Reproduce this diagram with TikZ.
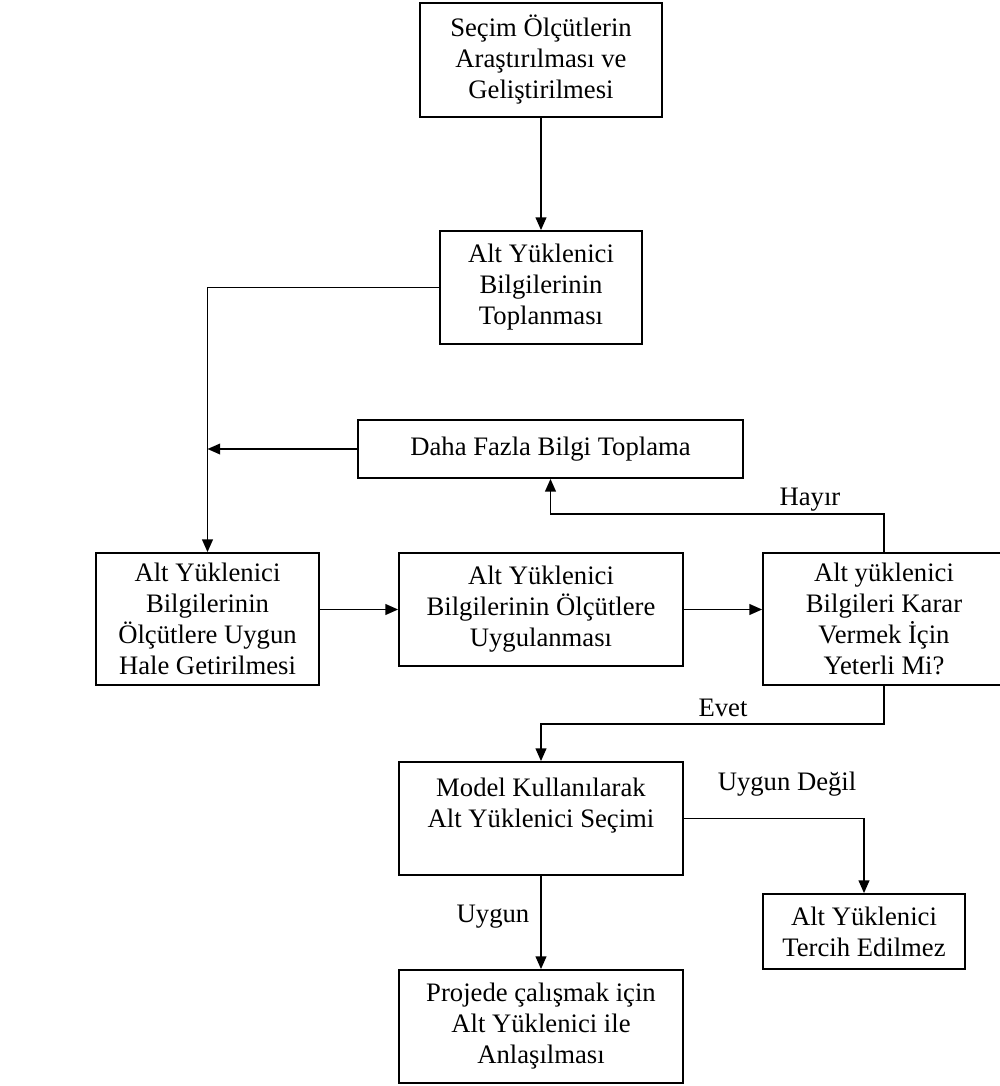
\documentclass[tikz,border=0pt]{standalone}
\usepackage{fontspec}
\setmainfont{Liberation Serif}
\usetikzlibrary{arrows.meta}
\begin{document}
\begin{tikzpicture}[x=.75pt,y=-.75pt,
  yazi/.style={font=\fontsize{20}{23.25}\selectfont},
  kutu/.style 2 args={draw,line width=1.3pt,align=center,inner sep=0pt,yazi,minimum width=#1*.75pt,minimum height=#2*.75pt},
  ok/.style={line width=1.3pt,-{Triangle[length=9.5pt,width=8pt]}}]
  \useasboundingbox (0,0) rectangle (1000,1086);
  % kutular
  \node[kutu={242}{114}] (secim) at (541,60) {Seçim Ölçütlerin\\Araştırılması ve\\Geliştirilmesi};
  \node[kutu={202}{113}] (topla) at (541,287.5) {Alt Yüklenici\\Bilgilerinin\\Toplanması};
  \node[kutu={385}{58}] (fazla) at (550.5,449) {Daha Fazla Bilgi Toplama};
  \node[kutu={223}{132}] (uyg) at (207.5,619) {Alt Yüklenici\\Bilgilerinin\\Ölçütlere Uygun\\Hale Getirilmesi};
  \node[kutu={284}{113}] (uygula) at (541,609.5) {Alt Yüklenici\\Bilgilerinin Ölçütlere\\Uygulanması};
  \node[kutu={242}{132}] (yeter) at (884,619) {Alt yüklenici\\Bilgileri Karar\\Vermek İçin\\Yeterli Mi?};
  \node[kutu={284}{113}] (model) at (541,818.5) {Model Kullanılarak\\Alt Yüklenici Seçimi\\\mbox{}};
  \node[kutu={202}{75}] (tercih) at (864,931.5) {Alt Yüklenici\\Tercih Edilmez};
  \node[kutu={284}{113}] (anlas) at (541,1026.5) {Projede çalışmak için\\Alt Yüklenici ile\\Anlaşılması};
  % okler
  \draw[ok] (secim) -- (topla);
  \draw[ok] (topla.west) -| (uyg.north);
  \draw[ok] (fazla.west) -- (fazla.west -| uyg.north);
  \draw[ok] (uygula.west -| uyg.east) -- (uygula.west);
  \draw[ok] (uygula.east) -- (uygula.east -| yeter.west);
  \draw[ok] (yeter.north) -- ++(0,-38) -| (fazla.south);
  \draw[ok] (yeter.south) -- ++(0,38) -| (model.north);
  \draw[ok] (model.east) -| (tercih.north);
  \draw[ok] (model) -- (anlas);
  % etiketler
  \node[yazi] (hayir) at (810,500) {Hayır};
  \node[yazi] (evet) at (723,708) {Evet};
  \node[yazi] (degil) at (787,784) {Uygun Değil};
  \node[yazi] (uygun) at (493,917) {Uygun};
\end{tikzpicture}
\end{document}
